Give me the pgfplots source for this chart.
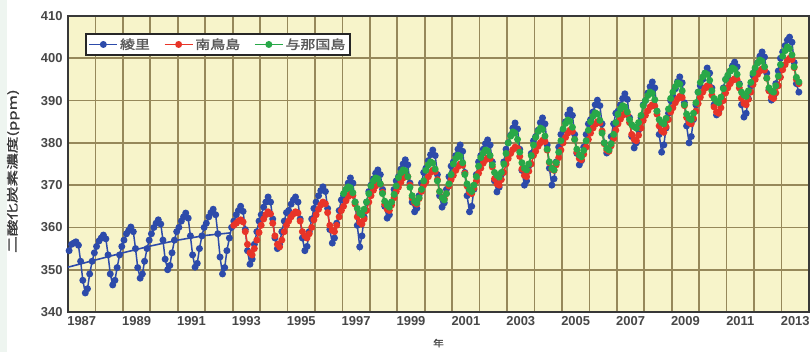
\documentclass[border=0pt]{standalone}
\usepackage{fontspec}
\setmainfont{Liberation Sans}
\newfontfamily\jp{Noto Sans CJK JP}[FakeStretch=1.2,FakeBold=1.5]
\newfontfamily\jpy{Noto Sans CJK JP}[FakeStretch=1.45,FakeBold=1.5]
\usepackage{pgfplots}
\pgfplotsset{compat=1.18}
\definecolor{cblue}{RGB}{45,75,170}
\definecolor{cred}{RGB}{232,52,40}
\definecolor{cgreen}{RGB}{40,168,72}
\definecolor{bgy}{RGB}{247,244,202}
\definecolor{gridc}{RGB}{150,136,90}
\definecolor{mint}{RGB}{238,245,240}
\begin{document}
\begin{tikzpicture}[x=1bp,y=1bp]
\path[use as bounding box] (-68,-40) rectangle (744,312);
\fill[white] (-68,-40) rectangle (744,312);
\fill[mint] (-68,-40) rectangle (-61,312);
\begin{axis}[
  at={(0,0)}, anchor=south west,
  scale only axis, width=741bp, height=296bp,
  xmin=1987, xmax=2014, ymin=340, ymax=410,
  xtick={1987,...,2014},
  x tick label as interval,
  xticklabels={1987,,1989,,1991,,1993,,1995,,1997,,1999,,2001,,2003,,2005,,2007,,2009,,2011,,2013},
  ytick={340,350,...,410},
  major tick length=0pt,
  grid=major,
  major grid style={line width=1.7bp, color=gridc},
  axis background/.style={fill=bgy},
  axis line style={line width=2.6bp, color=black!78},
  /pgf/number format/assume math mode=true,
  /pgf/number format/1000 sep={},
  tick label style={font=\bfseries\fontsize{13}{14}\selectfont, text=black!72},
  xticklabel style={yshift=-1bp},
  yticklabel style={xshift=-2bp},
  ylabel={\jpy 二酸化炭素濃度(ppm)},
  ylabel style={at={(axis description cs:-0.074,0.476)}, anchor=center, font=\fontsize{11.5}{12}\selectfont, text=black!78},
  xlabel={\jp 年},
  xlabel style={at={(axis description cs:0.5,-0.105)}, anchor=center, font=\fontsize{9}{9}\selectfont, text=black!75},
  legend columns=3,
  legend style={at={(0.023,0.943)}, anchor=north west, draw=black!85, line width=2.2bp, fill=white,
    font=\jp\fontsize{12.5}{13}\selectfont, text=black!65, inner sep=2.5bp,
    /tikz/every even column/.append style={column sep=12bp}},
  legend image code/.code={\draw[#1, line width=1.4bp] (0bp,0bp) -- (28bp,0bp); \draw[#1, mark repeat=1] plot coordinates {(14bp,0bp)};},
  every axis plot/.append style={line width=1.5bp, mark=*, mark size=2.7bp},
]
\addplot[cblue, mark options={fill=cblue, draw=cblue}] coordinates {
(1987.04,354.5) (1987.13,356.0) (1987.21,356.3) (1987.29,356.6) (1987.38,355.8) (1987.46,352.0) (1987.54,347.5) (1987.63,344.5) (1987.71,345.5) (1987.79,349.0) (1987.88,352.0) (1987.96,354.0)
(1988.04,355.5) (1988.13,356.8) (1988.21,357.5) (1988.29,358.2) (1988.38,357.3) (1988.46,353.5) (1988.54,349.0) (1988.63,346.4) (1988.71,347.5) (1988.79,350.5) (1988.88,353.5) (1988.96,355.5)
(1989.04,357.0) (1989.13,358.5) (1989.21,359.3) (1989.29,360.1) (1989.38,359.0) (1989.46,355.0) (1989.54,350.5) (1989.63,348.0) (1989.71,349.0) (1989.79,352.0) (1989.88,355.0) (1989.96,357.0)
(1990.04,358.5) (1990.13,360.0) (1990.21,361.0) (1990.29,361.8) (1990.38,360.8) (1990.46,357.0) (1990.54,352.5) (1990.63,350.0) (1990.71,351.0) (1990.79,354.0) (1990.88,357.0) (1990.96,359.0)
(1991.04,360.0) (1991.13,361.5) (1991.21,362.5) (1991.29,363.4) (1991.38,362.2) (1991.46,358.0) (1991.54,353.5) (1991.63,350.6) (1991.71,351.5) (1991.79,355.0) (1991.88,358.0) (1991.96,360.0)
(1992.04,361.0) (1992.13,362.5) (1992.21,363.5) (1992.29,364.3) (1992.38,363.0) (1992.46,358.5) (1992.54,353.0) (1992.63,349.0) (1992.71,350.5) (1992.79,354.5) (1992.88,357.5) (1992.96,360.0)
(1993.04,361.5) (1993.13,363.0) (1993.21,364.0) (1993.29,365.0) (1993.38,363.8) (1993.46,359.5) (1993.54,354.5) (1993.63,351.3) (1993.71,352.5) (1993.79,356.0) (1993.88,359.0) (1993.96,361.5)
(1994.04,363.0) (1994.13,364.8) (1994.21,366.0) (1994.29,367.2) (1994.38,366.0) (1994.46,362.0) (1994.54,357.5) (1994.63,355.0) (1994.71,356.0) (1994.79,359.0) (1994.88,361.5) (1994.96,363.5)
(1995.04,364.0) (1995.13,365.5) (1995.21,366.5) (1995.29,367.2) (1995.38,366.0) (1995.46,362.0) (1995.54,357.5) (1995.63,354.5) (1995.71,355.5) (1995.79,359.0) (1995.88,362.0) (1995.96,364.5)
(1996.04,366.0) (1996.13,367.5) (1996.21,368.7) (1996.29,369.6) (1996.38,368.5) (1996.46,364.5) (1996.54,359.5) (1996.63,356.3) (1996.71,357.5) (1996.79,361.0) (1996.88,364.0) (1996.96,366.5)
(1997.04,367.5) (1997.13,369.0) (1997.21,370.5) (1997.29,371.7) (1997.38,370.5) (1997.46,366.0) (1997.54,360.5) (1997.63,355.4) (1997.71,358.0) (1997.79,362.5) (1997.88,366.0) (1997.96,368.5)
(1998.04,370.0) (1998.13,371.5) (1998.21,372.8) (1998.29,373.6) (1998.38,372.5) (1998.46,369.0) (1998.54,365.0) (1998.63,362.2) (1998.71,363.0) (1998.79,366.0) (1998.88,369.0) (1998.96,371.0)
(1999.04,372.0) (1999.13,373.8) (1999.21,375.0) (1999.29,376.0) (1999.38,374.8) (1999.46,370.5) (1999.54,366.0) (1999.63,363.7) (1999.71,364.5) (1999.79,367.5) (1999.88,370.5) (1999.96,373.0)
(2000.04,374.0) (2000.13,375.8) (2000.21,377.2) (2000.29,378.3) (2000.38,377.0) (2000.46,372.5) (2000.54,367.5) (2000.63,364.8) (2000.71,365.8) (2000.79,369.0) (2000.88,372.0) (2000.96,374.5)
(2001.04,375.5) (2001.13,377.0) (2001.21,378.5) (2001.29,379.5) (2001.38,378.0) (2001.46,373.0) (2001.54,367.5) (2001.63,363.7) (2001.71,365.0) (2001.79,369.0) (2001.88,372.5) (2001.96,375.5)
(2002.04,377.0) (2002.13,378.5) (2002.21,379.8) (2002.29,380.7) (2002.38,379.5) (2002.46,375.5) (2002.54,371.0) (2002.63,368.4) (2002.71,369.5) (2002.79,372.5) (2002.88,375.5) (2002.96,378.5)
(2003.04,380.0) (2003.13,381.8) (2003.21,383.5) (2003.29,384.7) (2003.38,383.3) (2003.46,378.5) (2003.54,373.5) (2003.63,370.0) (2003.71,371.0) (2003.79,374.5) (2003.88,377.5) (2003.96,380.5)
(2004.04,381.5) (2004.13,383.0) (2004.21,384.8) (2004.29,385.9) (2004.38,384.5) (2004.46,379.5) (2004.54,374.0) (2004.63,370.0) (2004.71,371.5) (2004.79,375.5) (2004.88,379.0) (2004.96,382.0)
(2005.04,383.0) (2005.13,385.0) (2005.21,386.7) (2005.29,387.8) (2005.38,386.5) (2005.46,382.0) (2005.54,377.5) (2005.63,374.8) (2005.71,375.8) (2005.79,379.0) (2005.88,382.0) (2005.96,384.5)
(2006.04,385.5) (2006.13,387.3) (2006.21,389.0) (2006.29,390.1) (2006.38,388.8) (2006.46,384.5) (2006.54,380.0) (2006.63,377.6) (2006.71,378.5) (2006.79,381.5) (2006.88,384.5) (2006.96,387.0)
(2007.04,387.5) (2007.13,389.0) (2007.21,390.5) (2007.29,391.6) (2007.38,390.3) (2007.46,386.0) (2007.54,381.5) (2007.63,378.8) (2007.71,380.0) (2007.79,383.0) (2007.88,386.0) (2007.96,389.0)
(2008.04,390.0) (2008.13,391.8) (2008.21,393.3) (2008.29,394.4) (2008.38,393.0) (2008.46,387.5) (2008.54,382.0) (2008.63,377.8) (2008.71,379.5) (2008.79,383.5) (2008.88,387.0) (2008.96,390.0)
(2009.04,391.0) (2009.13,392.8) (2009.21,394.5) (2009.29,395.6) (2009.38,394.2) (2009.46,389.5) (2009.54,384.0) (2009.63,380.0) (2009.71,381.5) (2009.79,385.5) (2009.88,389.0) (2009.96,392.0)
(2010.04,393.5) (2010.13,395.0) (2010.21,396.5) (2010.29,397.7) (2010.38,396.5) (2010.46,393.0) (2010.54,389.0) (2010.63,386.6) (2010.71,387.3) (2010.79,390.0) (2010.88,393.0) (2010.96,395.0)
(2011.04,395.5) (2011.13,397.0) (2011.21,398.2) (2011.29,399.1) (2011.38,398.0) (2011.46,394.0) (2011.54,389.0) (2011.63,386.1) (2011.71,387.0) (2011.79,390.5) (2011.88,393.5) (2011.96,396.0)
(2012.04,397.5) (2012.13,399.0) (2012.21,400.5) (2012.29,401.5) (2012.38,400.3) (2012.46,396.5) (2012.54,392.5) (2012.63,390.1) (2012.71,391.0) (2012.79,394.0) (2012.88,397.0) (2012.96,400.0)
(2013.04,401.5) (2013.13,403.0) (2013.21,404.3) (2013.29,405.0) (2013.38,403.8) (2013.46,399.0) (2013.54,394.0) (2013.63,392.0)
};
\addlegendentry{綾里}
\addplot[cred, mark options={fill=cred, draw=cred}] coordinates {
(1993.04,360.5) (1993.13,361.0) (1993.21,361.5) (1993.29,361.8) (1993.38,361.3) (1993.46,359.0) (1993.54,356.0) (1993.63,354.0) (1993.71,353.5) (1993.79,355.0) (1993.88,357.0) (1993.96,358.8)
(1994.04,360.5) (1994.13,362.0) (1994.21,363.0) (1994.29,363.7) (1994.38,363.2) (1994.46,361.0) (1994.54,358.0) (1994.63,356.0) (1994.71,355.4) (1994.79,357.0) (1994.88,359.0) (1994.96,360.5)
(1995.04,361.5) (1995.13,362.5) (1995.21,363.2) (1995.29,363.7) (1995.38,363.4) (1995.46,361.5) (1995.54,359.0) (1995.63,358.0) (1995.71,357.5) (1995.79,358.5) (1995.88,360.0) (1995.96,361.8)
(1996.04,363.0) (1996.13,364.3) (1996.21,365.3) (1996.29,366.0) (1996.38,365.6) (1996.46,363.5) (1996.54,360.5) (1996.63,359.3) (1996.71,359.0) (1996.79,360.5) (1996.88,362.5) (1996.96,364.0)
(1997.04,365.0) (1997.13,366.3) (1997.21,367.3) (1997.29,368.0) (1997.38,367.6) (1997.46,365.5) (1997.54,362.5) (1997.63,361.2) (1997.71,360.8) (1997.79,362.0) (1997.88,364.0) (1997.96,366.0)
(1998.04,367.5) (1998.13,368.8) (1998.21,369.8) (1998.29,370.5) (1998.38,370.2) (1998.46,368.3) (1998.54,365.5) (1998.63,364.3) (1998.71,364.0) (1998.79,365.3) (1998.88,367.0) (1998.96,368.5)
(1999.04,369.5) (1999.13,370.7) (1999.21,371.7) (1999.29,372.3) (1999.38,372.0) (1999.46,370.0) (1999.54,367.0) (1999.63,365.8) (1999.71,365.5) (1999.79,366.8) (1999.88,368.5) (1999.96,370.0)
(2000.04,370.8) (2000.13,372.0) (2000.21,373.0) (2000.29,373.5) (2000.38,373.2) (2000.46,371.3) (2000.54,368.5) (2000.63,367.0) (2000.71,366.8) (2000.79,368.0) (2000.88,369.8) (2000.96,371.3)
(2001.04,372.3) (2001.13,373.5) (2001.21,374.4) (2001.29,375.0) (2001.38,374.7) (2001.46,372.8) (2001.54,369.8) (2001.63,368.3) (2001.71,368.0) (2001.79,369.3) (2001.88,371.0) (2001.96,372.8)
(2002.04,374.0) (2002.13,375.2) (2002.21,376.0) (2002.29,376.5) (2002.38,376.2) (2002.46,374.3) (2002.54,371.5) (2002.63,370.3) (2002.71,370.0) (2002.79,371.3) (2002.88,373.0) (2002.96,375.0)
(2003.04,376.3) (2003.13,377.5) (2003.21,378.4) (2003.29,379.0) (2003.38,378.7) (2003.46,376.8) (2003.54,373.8) (2003.63,372.3) (2003.71,372.0) (2003.79,373.3) (2003.88,375.0) (2003.96,377.0)
(2004.04,378.0) (2004.13,379.2) (2004.21,380.0) (2004.29,380.6) (2004.38,380.3) (2004.46,378.3) (2004.54,375.3) (2004.63,373.8) (2004.71,373.5) (2004.79,374.8) (2004.88,376.5) (2004.96,378.3)
(2005.04,380.0) (2005.13,381.3) (2005.21,382.3) (2005.29,383.0) (2005.38,382.7) (2005.46,380.8) (2005.54,377.8) (2005.63,376.3) (2005.71,376.0) (2005.79,377.3) (2005.88,379.0) (2005.96,380.8)
(2006.04,382.3) (2006.13,383.5) (2006.21,384.4) (2006.29,385.0) (2006.38,384.7) (2006.46,382.8) (2006.54,379.8) (2006.63,378.3) (2006.71,378.0) (2006.79,379.3) (2006.88,381.0) (2006.96,383.0)
(2007.04,384.5) (2007.13,385.6) (2007.21,386.5) (2007.29,387.0) (2007.38,386.7) (2007.46,384.8) (2007.54,382.0) (2007.63,380.8) (2007.71,380.5) (2007.79,381.8) (2007.88,383.5) (2007.96,385.3)
(2008.04,386.5) (2008.13,387.6) (2008.21,388.5) (2008.29,389.0) (2008.38,388.7) (2008.46,386.8) (2008.54,384.0) (2008.63,382.8) (2008.71,382.5) (2008.79,383.8) (2008.88,385.5) (2008.96,387.3)
(2009.04,388.3) (2009.13,389.5) (2009.21,390.4) (2009.29,391.0) (2009.38,390.7) (2009.46,388.8) (2009.54,386.0) (2009.63,384.8) (2009.71,384.5) (2009.79,385.8) (2009.88,387.5) (2009.96,389.3)
(2010.04,390.8) (2010.13,392.0) (2010.21,392.9) (2010.29,393.5) (2010.38,393.2) (2010.46,391.3) (2010.54,388.5) (2010.63,387.3) (2010.71,387.0) (2010.79,388.3) (2010.88,390.0) (2010.96,391.8)
(2011.04,393.0) (2011.13,394.0) (2011.21,394.8) (2011.29,395.2) (2011.38,394.9) (2011.46,393.0) (2011.54,390.5) (2011.63,389.3) (2011.71,389.0) (2011.79,390.3) (2011.88,392.0) (2011.96,393.8)
(2012.04,395.0) (2012.13,396.2) (2012.21,397.0) (2012.29,397.5) (2012.38,397.2) (2012.46,395.3) (2012.54,392.3) (2012.63,390.8) (2012.71,390.5) (2012.79,391.8) (2012.88,393.5) (2012.96,395.5)
(2013.04,397.3) (2013.13,398.5) (2013.21,399.5) (2013.29,400.0) (2013.38,399.7) (2013.46,397.8) (2013.54,395.0) (2013.63,394.0)
};
\addlegendentry{南鳥島}
\addplot[cgreen, mark options={fill=cgreen, draw=cgreen}] coordinates {
(1997.04,368.0) (1997.13,369.0) (1997.21,369.6) (1997.29,369.4) (1997.38,368.2) (1997.46,366.0) (1997.54,364.5) (1997.63,363.4) (1997.71,363.0) (1997.79,364.3) (1997.88,366.0) (1997.96,368.0)
(1998.04,369.8) (1998.13,371.0) (1998.21,371.7) (1998.29,371.5) (1998.38,370.3) (1998.46,368.0) (1998.54,366.2) (1998.63,365.2) (1998.71,364.8) (1998.79,366.0) (1998.88,367.8) (1998.96,369.8)
(1999.04,371.8) (1999.13,372.9) (1999.21,373.6) (1999.29,373.4) (1999.38,372.0) (1999.46,369.5) (1999.54,367.5) (1999.63,366.2) (1999.71,365.8) (1999.79,367.0) (1999.88,369.0) (1999.96,371.0)
(2000.04,373.5) (2000.13,374.8) (2000.21,375.5) (2000.29,375.2) (2000.38,373.8) (2000.46,371.0) (2000.54,368.5) (2000.63,367.0) (2000.71,366.5) (2000.79,368.0) (2000.88,370.3) (2000.96,372.5)
(2001.04,375.0) (2001.13,376.3) (2001.21,377.1) (2001.29,376.8) (2001.38,375.3) (2001.46,372.5) (2001.54,370.3) (2001.63,369.0) (2001.71,368.5) (2001.79,370.0) (2001.88,372.0) (2001.96,374.5)
(2002.04,376.5) (2002.13,377.6) (2002.21,378.3) (2002.29,378.1) (2002.38,377.0) (2002.46,374.8) (2002.54,373.0) (2002.63,372.3) (2002.71,371.9) (2002.79,373.0) (2002.88,375.0) (2002.96,377.5)
(2003.04,380.0) (2003.13,381.6) (2003.21,382.6) (2003.29,382.3) (2003.38,380.8) (2003.46,377.8) (2003.54,375.3) (2003.63,374.0) (2003.71,373.6) (2003.79,375.0) (2003.88,377.0) (2003.96,379.5)
(2004.04,381.3) (2004.13,382.7) (2004.21,383.5) (2004.29,383.2) (2004.38,381.6) (2004.46,378.5) (2004.54,375.5) (2004.63,374.0) (2004.71,373.6) (2004.79,375.3) (2004.88,377.8) (2004.96,380.5)
(2005.04,383.3) (2005.13,384.6) (2005.21,385.4) (2005.29,385.1) (2005.38,383.7) (2005.46,380.8) (2005.54,378.5) (2005.63,377.1) (2005.71,376.7) (2005.79,378.2) (2005.88,380.5) (2005.96,383.0)
(2006.04,385.0) (2006.13,386.3) (2006.21,387.1) (2006.29,386.8) (2006.38,385.3) (2006.46,382.3) (2006.54,380.0) (2006.63,378.7) (2006.71,378.3) (2006.79,379.8) (2006.88,382.0) (2006.96,384.8)
(2007.04,386.8) (2007.13,388.0) (2007.21,388.8) (2007.29,388.5) (2007.38,387.3) (2007.46,385.5) (2007.54,384.3) (2007.63,383.8) (2007.71,383.5) (2007.79,384.8) (2007.88,386.5) (2007.96,388.8)
(2008.04,390.0) (2008.13,391.2) (2008.21,392.0) (2008.29,391.7) (2008.38,390.2) (2008.46,387.5) (2008.54,385.5) (2008.63,384.8) (2008.71,384.5) (2008.79,385.8) (2008.88,388.0) (2008.96,390.5)
(2009.04,392.0) (2009.13,393.3) (2009.21,394.2) (2009.29,393.9) (2009.38,392.3) (2009.46,389.0) (2009.54,386.8) (2009.63,385.8) (2009.71,385.5) (2009.79,387.0) (2009.88,389.5) (2009.96,392.0)
(2010.04,394.3) (2010.13,395.6) (2010.21,396.5) (2010.29,396.2) (2010.38,394.8) (2010.46,392.3) (2010.54,390.5) (2010.63,389.8) (2010.71,389.5) (2010.79,390.8) (2010.88,392.8) (2010.96,395.0)
(2011.04,396.0) (2011.13,397.0) (2011.21,397.7) (2011.29,397.4) (2011.38,396.2) (2011.46,393.8) (2011.54,392.0) (2011.63,391.3) (2011.71,391.0) (2011.79,392.3) (2011.88,394.3) (2011.96,396.5)
(2012.04,397.8) (2012.13,398.9) (2012.21,399.6) (2012.29,399.3) (2012.38,398.0) (2012.46,395.3) (2012.54,393.0) (2012.63,392.3) (2012.71,392.0) (2012.79,393.5) (2012.88,395.8) (2012.96,398.5)
(2013.04,400.5) (2013.13,401.8) (2013.21,402.7) (2013.29,402.3) (2013.38,400.8) (2013.46,398.0) (2013.54,395.5) (2013.63,394.4)
};
\addlegendentry{与那国島}
\addplot[cblue, line width=1.6bp, mark=none, forget plot] coordinates {
(1987.0,350.6) (1988.0,352.3) (1989.0,354.0) (1990.0,355.6) (1991.0,357.0) (1992.0,358.1) (1992.9,358.7)
};
\end{axis}
\end{tikzpicture}
\end{document}
